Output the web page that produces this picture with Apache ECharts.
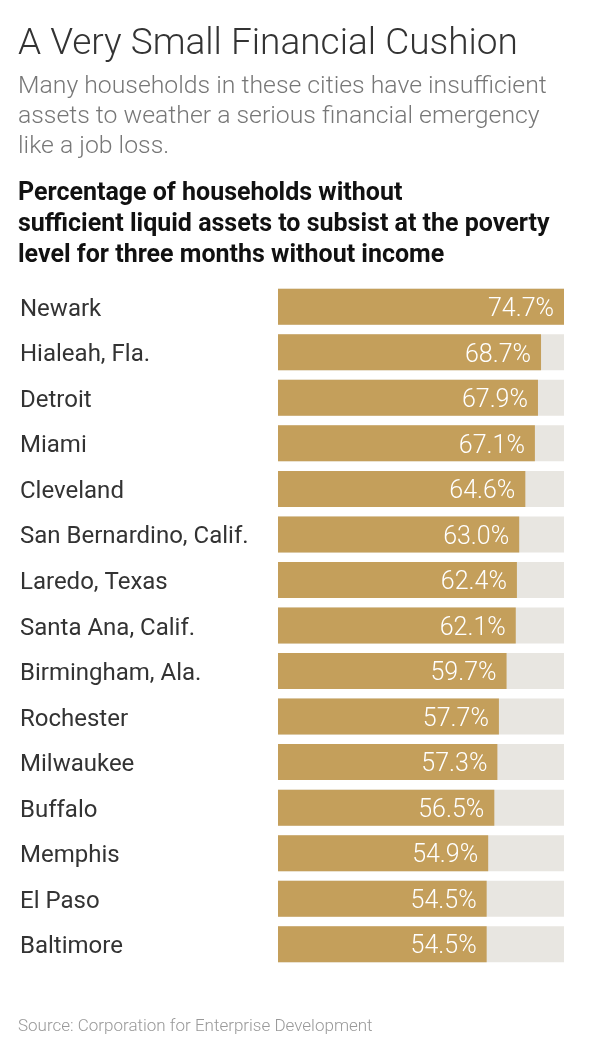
<!DOCTYPE html>
<html>
<head>
<meta charset="utf-8">
<script src="https://cdn.jsdelivr.net/npm/echarts@6/dist/echarts.min.js"></script>
<style>
  html, body { margin: 0; padding: 0; background: #fff; }
  #chart { width: 600px; height: 1060px; }
</style>
</head>
<body>
<div id="chart"></div>
<script>
// 城市与比例
var cities = ['Newark', 'Hialeah, Fla.', 'Detroit', 'Miami', 'Cleveland', 'San Bernardino, Calif.',
  'Laredo, Texas', 'Santa Ana, Calif.', 'Birmingham, Ala.', 'Rochester', 'Milwaukee', 'Buffalo',
  'Memphis', 'El Paso', 'Baltimore'];
var shares = [74.7, 68.7, 67.9, 67.1, 64.6, 63.0, 62.4, 62.1, 59.7, 57.7, 57.3, 56.5, 54.9, 54.5, 54.5];

var titleText = 'A Very Small Financial Cushion';
var subLines = ['Many households in these cities have insufficient',
  'assets to weather a serious financial emergency',
  'like a job loss.'];
var headLines = ['Percentage of households without',
  'sufficient liquid assets to subsist at the poverty',
  'level for three months without income'];
var sourceText = 'Source: Corporation for Enterprise Development';

var chart = echarts.init(document.getElementById('chart'));

var texts = [];
texts.push({
  type: 'text', left: 18, top: 26,
  style: { text: titleText, font: '300 37px Roboto', fill: '#333' }
});
for (var i = 0; i < subLines.length; i++) {
  texts.push({
    type: 'text', left: 18, top: 74 + i * 30,
    style: { text: subLines[i], font: '300 24.8px Roboto', fill: '#777' }
  });
}
for (var j = 0; j < headLines.length; j++) {
  texts.push({
    type: 'text', left: 18, top: 181 + j * 31,
    style: { text: headLines[j], font: 'bold 25px Roboto', fill: '#111' }
  });
}
texts.push({
  type: 'text', left: 18, top: 1018,
  style: { text: sourceText, font: '300 17px Roboto', fill: '#999' }
});

chart.setOption({
  animation: false,
  graphic: texts,
  grid: { left: 278, right: 36, top: 284, bottom: 93 },
  xAxis: {
    type: 'value',
    min: 0,
    max: function (v) { return v.max; },
    show: false
  },
  yAxis: {
    type: 'category',
    data: cities,
    inverse: true,
    axisLine: { show: false },
    axisTick: { show: false },
    axisLabel: {
      align: 'left',
      margin: 258,
      formatter: function (v) { return '{c|' + v + '}'; },
      rich: {
        c: { fontFamily: 'Roboto', fontSize: 24, color: '#333', padding: [6, 0, 0, 0] }
      }
    }
  },
  series: [{
    type: 'bar',
    data: shares,
    barWidth: 36,
    showBackground: true,
    backgroundStyle: { color: '#e8e6e1' },
    itemStyle: { color: '#c49f5b' },
    label: {
      show: true,
      position: 'insideRight',
      distance: 10,
      offset: [0, 3],
      color: '#fff',
      fontFamily: 'Roboto',
      fontWeight: 300,
      fontSize: 25,
      formatter: function (p) { return p.value.toFixed(1) + '%'; }
    }
  }]
});
</script>
</body>
</html>
